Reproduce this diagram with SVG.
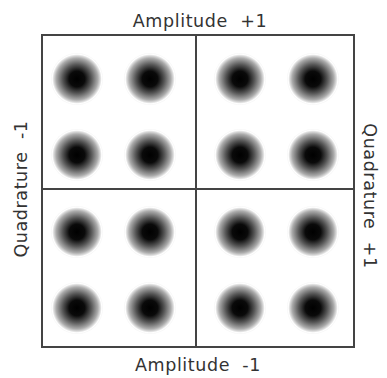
<svg xmlns="http://www.w3.org/2000/svg" width="387" height="378" viewBox="0 0 387 378">
<style>
.lbl{font-family:"DejaVu Sans",Verdana,sans-serif;font-size:17.5px;letter-spacing:0.6px;fill:#333;text-anchor:middle;white-space:pre}
.ln{stroke:#444;stroke-width:2;fill:none}
</style>
<defs>
<radialGradient id="dot">
<stop offset="0" stop-color="#000"/>
<stop offset="0.3" stop-color="#0a0a0a"/>
<stop offset="0.55" stop-color="#555"/>
<stop offset="0.8" stop-color="#aaa"/>
<stop offset="0.9" stop-color="#ddd"/>
<stop offset="0.95" stop-color="#fff"/>
<stop offset="1" stop-color="#f5f5f5"/>
</radialGradient>
</defs>
<rect width="387" height="378" fill="#fff"/>
<g id="frame">
<rect x="42" y="35" width="312" height="312" fill="#f5f5f5" class="ln"/>
</g>
<g id="connectors">
<line x1="196" y1="35" x2="196" y2="347" class="ln"/>
<line x1="42" y1="189" x2="354" y2="189" class="ln"/>
</g>
<g id="dots" fill="url(#dot)">
<circle cx="77" cy="79" r="26"/><circle cx="150" cy="79" r="26"/><circle cx="240" cy="79" r="26"/><circle cx="313" cy="79" r="26"/>
<circle cx="77" cy="155" r="26"/><circle cx="150" cy="155" r="26"/><circle cx="240" cy="155" r="26"/><circle cx="313" cy="155" r="26"/>
<circle cx="77" cy="232" r="26"/><circle cx="150" cy="232" r="26"/><circle cx="240" cy="232" r="26"/><circle cx="313" cy="232" r="26"/>
<circle cx="77" cy="308" r="26"/><circle cx="150" cy="308" r="26"/><circle cx="240" cy="308" r="26"/><circle cx="313" cy="308" r="26"/>
</g>
<g id="labels">
<text class="lbl" x="200" y="27">Amplitude  +1</text>
<text class="lbl" x="198" y="371">Amplitude  -1</text>
<text class="lbl" transform="translate(27,189) rotate(-90)">Quadrature  -1</text>
<text class="lbl" transform="translate(364,196) rotate(90)">Quadrature  +1</text>
</g>
</svg>
